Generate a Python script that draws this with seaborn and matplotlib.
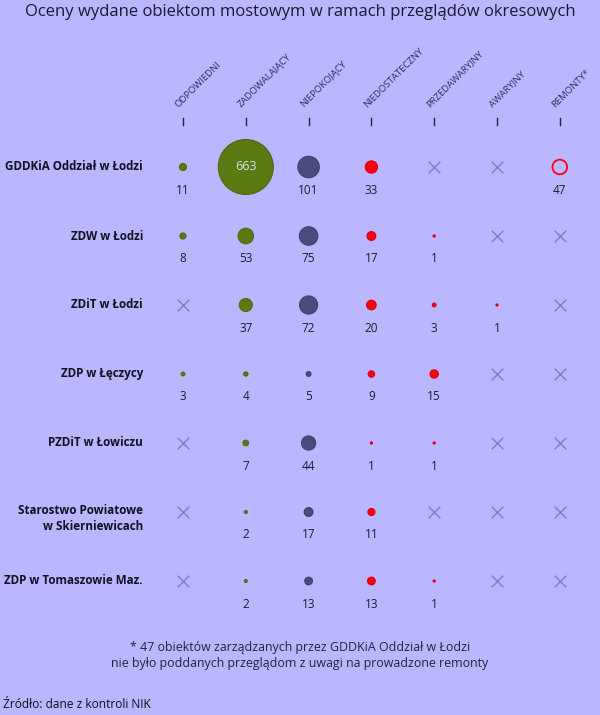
import numpy as np
import pandas as pd
import matplotlib.pyplot as plt
import seaborn as sns

TITLE = "Oceny wydane obiektom mostowym w ramach przeglądów okresowych"

columns = ["ODPOWIEDNI", "ZADOWALAJĄCY", "NIEPOKOJĄCY", "NIEDOSTATECZNY",
           "PRZEDAWARYJNY", "AWARYJNY", "REMONTY*"]

units = ["GDDKiA Oddział w Łodzi", "ZDW w Łodzi", "ZDiT w Łodzi", "ZDP w Łęczycy",
         "PZDiT w Łowiczu", "Starostwo Powiatowe\nw Skierniewicach", "ZDP w Tomaszowie Maz."]

# None = brak obiektów (krzyżyk)
odpowiedni = [11, 8, None, 3, None, None, None]
zadowalajacy = [663, 53, 37, 4, 7, 2, 2]
niepokojacy = [101, 75, 72, 5, 44, 17, 13]
niedostateczny = [33, 17, 20, 9, 1, 11, 13]
przedawaryjny = [None, 1, 3, 15, 1, None, 1]
awaryjny = [None, None, 1, None, None, None, None]
remonty = [47, None, None, None, None, None, None]

col_colors = ["#5b7b12", "#5b7b12", "#4b4b7d", "#ff0010", "#ff0010", "#ff0010", "#ff0010"]

BG = "#bab6ff"
TXT = "#23233f"
CROSS = "#8482c8"

# layout in pixels
X0, DX = 183, 62.8
Y0, DY = 167, 69.0
R_MAX = 27.5  # radius in px of the largest bubble
V_MAX = 663

rows = []
for i, u in enumerate(units):
    for j, (c, vals) in enumerate(zip(columns, [odpowiedni, zadowalajacy, niepokojacy, niedostateczny,
                                                przedawaryjny, awaryjny, remonty])):
        rows.append({"unit": u, "col": c, "x": X0 + j * DX, "y": Y0 + i * DY, "value": vals[i]})
df = pd.DataFrame(rows)

fig = plt.figure(figsize=(6, 7.15), dpi=100)
fig.patch.set_facecolor(BG)
ax = fig.add_axes([0, 0, 1, 1])
ax.set_facecolor(BG)
ax.set_xlim(0, 600)
ax.set_ylim(715, 0)
ax.axis("off")

font = "Open Sans"

# area proportional to value; s in pt^2, 1 px = 0.72 pt
s_max = (2 * R_MAX * 0.72) ** 2
filled = df[df["value"].notna() & (df["col"] != "REMONTY*")].copy()
filled["s"] = filled["value"] / V_MAX * s_max
sns.scatterplot(data=filled, x="x", y="y", hue="col", size="value",
                sizes=(filled["s"].min(), filled["s"].max()),
                size_norm=(filled["value"].min(), filled["value"].max()),
                palette=dict(zip(columns, col_colors)), edgecolor="none",
                legend=False, ax=ax, zorder=3)
# seaborn's size mapping is linear between min and max -> keep exact area
ax.collections[-1].set_sizes(filled["s"].values)
# darker outline like in the reference
fc = ax.collections[-1].get_facecolors()
ax.collections[-1].set_edgecolors([tuple(np.clip(np.array(c[:3]) * 0.85, 0, 1)) + (1,) for c in fc])
ax.collections[-1].set_linewidths(0.8)

rem = df[(df["col"] == "REMONTY*") & df["value"].notna()]
ax.scatter(rem["x"], rem["y"], s=rem["value"] / V_MAX * s_max, facecolors="none",
           edgecolors="#ff0010", linewidths=1.3, zorder=3)

empty = df[df["value"].isna()]
ax.scatter(empty["x"], empty["y"], marker="x", s=70, color=CROSS, linewidths=1.1, zorder=3)

# value labels
for _, r in df[df["value"].notna()].iterrows():
    if r["value"] == V_MAX:
        ax.text(r["x"], r["y"], f"{int(r['value'])}", ha="center", va="center",
                fontsize=9, color="#dcdcee", family=font, zorder=4)
    else:
        ax.text(r["x"], r["y"] + 23, f"{int(r['value'])}", ha="center", va="center",
                fontsize=8.5, color="#1c1c34", family=font)

# column headers and tick marks
for j, c in enumerate(columns):
    x = X0 + j * DX
    ax.text(x - 3, 109, c, rotation=45, ha="left", va="bottom", fontsize=6.8,
            color="#2e2e5c", family=font, rotation_mode="anchor")
    ax.plot([x, x], [118, 125], color=TXT, lw=1.0)

# row labels
for i, u in enumerate(units):
    y = Y0 + i * DY
    if "\n" in u:
        y += 7
    ax.text(143, y, u, ha="right", va="center", fontsize=8.4, fontweight="bold",
            color="#121222", family=font, linespacing=1.3)

ax.text(300, 12, TITLE, ha="center", va="center", fontsize=11.95, color="#1a1a30", family=font)

ax.text(300, 648, "* 47 obiektów zarządzanych przez GDDKiA Oddział w Łodzi", ha="center",
        va="center", fontsize=8.9, color=TXT, family=font)
ax.text(300, 663, "nie było poddanych przeglądom z uwagi na prowadzone remonty", ha="center",
        va="center", fontsize=8.9, color=TXT, family=font)
ax.text(3, 705, "Źródło: dane z kontroli NIK", ha="left", va="center", fontsize=8.6,
        color="#101020", family=font)

fig.savefig("out.png", dpi=100, facecolor=BG)
